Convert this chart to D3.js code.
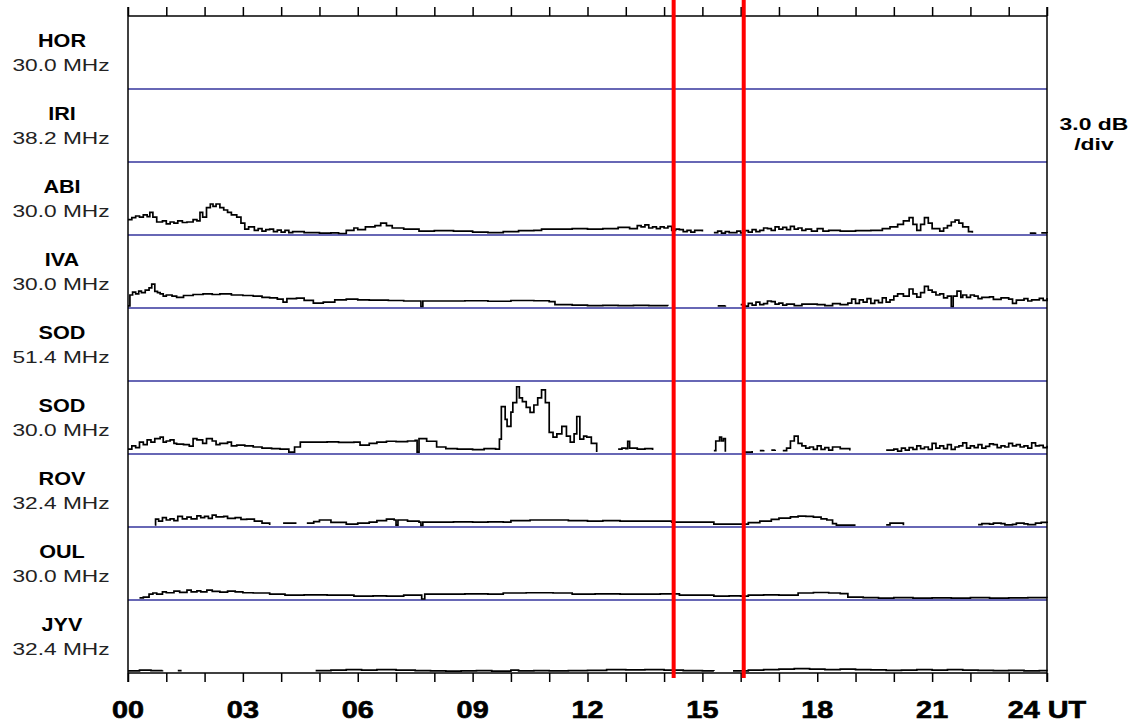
<!DOCTYPE html>
<html><head><meta charset="utf-8">
<script src="https://cdn.jsdelivr.net/npm/d3@7"></script>
<style>html,body{margin:0;padding:0;background:#fff;}svg{display:block;}</style>
</head><body>
<svg id="chart" width="1134" height="723"></svg>
<script>
// ---- data ----
const stations = ["HOR","IRI","ABI","IVA","SOD","SOD","ROV","OUL","JYV"];
const freqs = ["30.0 MHz","38.2 MHz","30.0 MHz","30.0 MHz","51.4 MHz","30.0 MHz","32.4 MHz","30.0 MHz","32.4 MHz"];
const hourLabels = ["00","03","06","09","12","15","18","21","24 UT"];
const labelHours = [0,3,6,9,12,15,18,21,24];
const markerHours = [14.25, 16.08];
const scaleText = ["3.0 dB","/div"];
// values in dB above panel baseline (3 dB per panel), [hour, dB]; null = gap
const HOR = [];
const IRI = [];
const ABI = [[0,0.6],[0.1,0.68],[0.2,0.75],[0.3,0.7],[0.4,0.8],[0.5,0.72],[0.57,0.9],[0.65,0.7],[0.75,0.5],[0.9,0.55],[1.0,0.42],[1.1,0.5],[1.2,0.45],[1.3,0.55],[1.42,0.48],[1.54,0.5],[1.7,0.6],[1.8,0.55],[1.88,0.9],[1.95,0.7],[2.05,1.1],[2.15,1.25],[2.22,1.15],[2.3,1.25],[2.4,1.1],[2.5,1.0],[2.6,0.9],[2.7,0.8],[2.84,0.7],[2.95,0.45],[3.05,0.2],[3.15,0.3],[3.3,0.15],[3.4,0.22],[3.5,0.12],[3.6,0.18],[3.7,0.2],[3.8,0.1],[3.9,0.16],[4.0,0.08],[4.1,0.15],[4.2,0.06],[4.3,0.1],[4.6,0.06],[5.0,0.04],[5.3,0.05],[5.5,0.02],[5.7,0.15],[5.9,0.25],[6.0,0.18],[6.2,0.3],[6.45,0.35],[6.6,0.45],[6.75,0.35],[6.9,0.25],[7.2,0.2],[7.6,0.12],[8.0,0.14],[8.5,0.12],[9.0,0.08],[9.4,0.06],[9.8,0.1],[10.2,0.14],[10.6,0.15],[10.8,0.2],[11.2,0.2],[11.6,0.22],[12.0,0.2],[12.4,0.22],[12.8,0.28],[13.1,0.22],[13.3,0.35],[13.4,0.3],[13.5,0.38],[13.6,0.25],[13.7,0.3],[13.8,0.22],[13.9,0.3],[14.0,0.25],[14.1,0.32],[14.2,0.15],[14.3,0.2],[14.4,0.18],[14.5,0.1],[14.6,0.15],[14.7,0.08],[14.8,0.15],[15.0,0.1],[15.05,null],[15.3,0.06],[15.4,0.12],[15.5,0.04],[15.6,0.1],[15.7,0.06],[15.9,0.12],[16.0,0.05],[16.1,0.14],[16.2,0.08],[16.3,0.18],[16.4,0.1],[16.5,0.15],[16.6,0.25],[16.7,0.22],[16.8,0.15],[16.9,0.3],[17.0,0.2],[17.1,0.28],[17.2,0.18],[17.3,0.32],[17.4,0.2],[17.5,0.25],[17.6,0.15],[17.7,0.2],[17.85,0.12],[18.0,0.22],[18.15,0.12],[18.3,0.15],[18.6,0.12],[19.0,0.14],[19.4,0.15],[19.7,0.22],[19.9,0.3],[20.1,0.4],[20.25,0.55],[20.4,0.68],[20.5,0.4],[20.6,0.15],[20.7,0.4],[20.8,0.68],[20.9,0.45],[21.0,0.22],[21.2,0.12],[21.3,0.25],[21.4,0.35],[21.5,0.5],[21.6,0.58],[21.7,0.45],[21.8,0.3],[21.95,0.1],[22.05,0.05],[22.1,null],[23.55,0.04],[23.7,0.06],[23.75,null],[23.85,0.05],[24,0.04]];
const IVA = [[0,0.05],[0.05,0.5],[0.12,0.62],[0.2,0.55],[0.28,0.66],[0.35,0.6],[0.45,0.7],[0.55,0.8],[0.62,0.95],[0.7,0.65],[0.77,0.6],[0.84,0.55],[0.92,0.45],[1.0,0.5],[1.15,0.45],[1.27,0.4],[1.45,0.48],[1.7,0.52],[1.96,0.55],[2.2,0.52],[2.4,0.55],[2.7,0.5],[3.0,0.48],[3.27,0.45],[3.5,0.4],[3.7,0.38],[3.9,0.33],[4.05,0.2],[4.15,0.35],[4.4,0.37],[4.6,0.28],[4.84,0.16],[5.1,0.2],[5.4,0.3],[5.7,0.33],[6.0,0.3],[6.3,0.29],[6.8,0.27],[7.2,0.25],[7.6,0.25],[7.65,0.02],[7.7,0.25],[8.2,0.25],[8.8,0.26],[9.4,0.24],[10.0,0.27],[10.6,0.26],[11.0,0.22],[11.15,0.1],[11.6,0.08],[12.0,0.06],[12.4,0.07],[12.8,0.06],[13.2,0.07],[13.6,0.06],[14.1,0.05],[14.15,null],[15.4,0.05],[15.6,0.06],[15.65,null],[16.0,0.1],[16.1,0.04],[16.2,0.15],[16.3,0.08],[16.4,0.2],[16.5,0.1],[16.6,0.14],[16.7,0.25],[16.8,0.22],[16.9,0.12],[17.0,0.16],[17.1,0.08],[17.2,0.12],[17.4,0.06],[17.6,0.12],[18.0,0.1],[18.2,0.06],[18.4,0.14],[18.6,0.1],[18.8,0.16],[18.9,0.33],[19.0,0.15],[19.1,0.3],[19.2,0.2],[19.3,0.35],[19.4,0.15],[19.5,0.28],[19.6,0.18],[19.7,0.38],[19.8,0.2],[19.9,0.3],[20.0,0.45],[20.1,0.55],[20.25,0.45],[20.4,0.75],[20.5,0.55],[20.6,0.41],[20.7,0.6],[20.8,0.86],[20.9,0.7],[21.0,0.62],[21.1,0.5],[21.2,0.55],[21.3,0.38],[21.4,0.45],[21.5,0.02],[21.55,0.45],[21.65,0.66],[21.75,0.4],[21.8,0.5],[21.9,0.4],[22.0,0.5],[22.1,0.45],[22.2,0.35],[22.3,0.4],[22.5,0.42],[22.6,0.32],[22.8,0.38],[23.0,0.33],[23.1,0.15],[23.2,0.29],[23.4,0.35],[23.5,0.25],[23.6,0.3],[23.8,0.36],[23.9,0.28],[24,0.37]];
const SOD51 = [];
const SOD30 = [[0,0.16],[0.1,0.3],[0.2,0.22],[0.3,0.45],[0.4,0.35],[0.5,0.55],[0.6,0.45],[0.7,0.6],[0.84,0.66],[0.92,0.45],[1.0,0.5],[1.1,0.55],[1.2,0.4],[1.27,0.37],[1.45,0.35],[1.6,0.29],[1.7,0.6],[1.8,0.55],[1.95,0.4],[2.05,0.6],[2.2,0.5],[2.3,0.35],[2.4,0.4],[2.6,0.45],[2.7,0.3],[2.84,0.33],[3.05,0.3],[3.27,0.25],[3.5,0.2],[3.75,0.18],[3.97,0.16],[4.2,0.04],[4.35,0.25],[4.5,0.45],[4.8,0.45],[5.2,0.46],[5.5,0.44],[5.9,0.45],[6.06,0.33],[6.3,0.4],[6.5,0.45],[6.75,0.49],[7.0,0.47],[7.3,0.5],[7.5,0.53],[7.55,0.04],[7.6,0.6],[7.8,0.49],[8.06,0.25],[8.3,0.18],[8.6,0.16],[9.0,0.14],[9.3,0.18],[9.6,0.16],[9.7,0.58],[9.75,1.93],[9.85,1.4],[9.9,1.11],[10.0,1.7],[10.05,2.1],[10.15,2.76],[10.22,2.3],[10.3,2.14],[10.4,1.9],[10.5,1.69],[10.6,2.0],[10.7,2.3],[10.8,2.63],[10.9,2.1],[11.0,0.86],[11.1,0.66],[11.2,0.8],[11.33,1.11],[11.45,0.7],[11.55,0.45],[11.65,0.8],[11.72,1.52],[11.8,0.58],[11.9,0.7],[11.98,0.66],[12.1,0.4],[12.24,0.04],[12.3,null],[12.8,0.16],[12.9,0.2],[13.0,0.18],[13.05,0.49],[13.1,0.2],[13.3,0.16],[13.5,0.18],[13.7,0.12],[13.75,null],[15.3,0.1],[15.35,0.5],[15.45,0.66],[15.5,0.5],[15.55,0.6],[15.6,0.05],[15.65,null],[16.1,0.04],[16.3,0.08],[16.4,null],[16.5,0.1],[16.6,0.12],[16.7,null],[16.8,0.12],[16.9,0.14],[17.0,null],[17.1,0.1],[17.2,0.2],[17.3,0.5],[17.4,0.7],[17.5,0.4],[17.6,0.3],[17.7,0.2],[17.8,0.25],[17.9,0.15],[18.0,0.3],[18.1,0.15],[18.2,0.22],[18.3,0.12],[18.4,0.25],[18.6,0.18],[18.85,0.1],[18.9,null],[19.8,0.12],[20.0,0.16],[20.1,0.08],[20.2,0.2],[20.3,0.12],[20.4,0.22],[20.5,0.15],[20.6,0.3],[20.7,0.18],[20.8,0.25],[20.9,0.15],[21.0,0.4],[21.1,0.2],[21.2,0.3],[21.3,0.18],[21.4,0.35],[21.5,0.15],[21.6,0.25],[21.7,0.3],[21.8,0.42],[21.9,0.2],[22.0,0.3],[22.1,0.22],[22.2,0.35],[22.3,0.2],[22.4,0.28],[22.5,0.38],[22.6,0.35],[22.7,0.22],[22.8,0.3],[22.9,0.25],[23.0,0.4],[23.1,0.3],[23.2,0.35],[23.3,0.25],[23.4,0.3],[23.5,0.2],[23.6,0.42],[23.7,0.3],[23.8,0.32],[23.9,0.22],[24,0.3]];
const ROV = [[0.7,0.05],[0.72,0.29],[0.8,0.2],[0.9,0.35],[1.0,0.25],[1.1,0.3],[1.2,0.22],[1.3,0.4],[1.42,0.3],[1.54,0.37],[1.65,0.3],[1.8,0.42],[1.9,0.35],[2.0,0.4],[2.1,0.32],[2.2,0.45],[2.3,0.38],[2.5,0.4],[2.6,0.32],[2.8,0.35],[2.95,0.28],[3.1,0.29],[3.3,0.2],[3.5,0.12],[3.7,0.04],[3.75,null],[4.05,0.12],[4.4,0.12],[4.45,null],[4.67,0.12],[4.85,0.18],[5.0,0.25],[5.3,0.15],[5.7,0.08],[6.0,0.12],[6.3,0.16],[6.5,0.22],[6.75,0.29],[6.95,0.25],[7.0,0.04],[7.05,0.25],[7.3,0.2],[7.6,0.16],[7.65,0.03],[7.7,0.16],[8.06,0.16],[8.5,0.17],[9.0,0.16],[9.4,0.17],[9.8,0.16],[10.0,0.22],[10.5,0.25],[11.1,0.25],[11.5,0.22],[12.0,0.2],[12.4,0.22],[12.85,0.2],[13.3,0.2],[13.9,0.2],[14.2,0.16],[14.7,0.16],[15.1,0.16],[15.3,0.08],[15.7,0.08],[16.0,0.08],[16.2,0.14],[16.5,0.2],[16.8,0.28],[17.0,0.33],[17.3,0.38],[17.5,0.41],[17.7,0.4],[17.9,0.37],[18.1,0.3],[18.25,0.25],[18.4,0.1],[18.5,0.04],[19.0,0.04],[19.05,null],[19.8,0.05],[19.9,0.12],[20.2,0.12],[20.25,0.03],[20.3,null],[21.0,0.04],[21.1,null],[21.2,0.04],[21.3,null],[22.2,0.06],[22.3,0.1],[22.5,0.08],[22.6,0.12],[22.8,0.1],[22.9,0.05],[23.1,0.07],[23.2,0.12],[23.4,0.09],[23.5,0.06],[23.7,0.12],[23.85,0.15],[24,0.12]];
const OUL = [[0.3,0.05],[0.4,0.08],[0.55,0.2],[0.65,0.25],[0.75,0.2],[0.9,0.3],[1.0,0.26],[1.2,0.33],[1.35,0.28],[1.54,0.37],[1.65,0.3],[1.8,0.34],[1.9,0.3],[2.06,0.37],[2.2,0.32],[2.4,0.29],[2.6,0.33],[2.8,0.3],[3.0,0.26],[3.27,0.25],[3.7,0.2],[4.1,0.16],[4.6,0.17],[5.2,0.16],[5.8,0.16],[5.9,0.12],[6.4,0.13],[6.75,0.12],[7.2,0.16],[7.6,0.16],[7.67,0.0],[7.75,0.2],[8.2,0.2],[8.8,0.21],[9.4,0.2],[9.8,0.25],[10.4,0.26],[11.1,0.25],[11.6,0.2],[12.2,0.21],[12.85,0.2],[13.4,0.2],[13.9,0.21],[14.4,0.16],[15.0,0.16],[15.3,0.12],[15.7,0.13],[16.0,0.12],[16.2,0.16],[16.6,0.17],[17.0,0.16],[17.5,0.25],[17.9,0.27],[18.3,0.25],[18.6,0.22],[18.8,0.08],[19.2,0.06],[19.6,0.04],[20.0,0.06],[20.5,0.04],[21.0,0.05],[21.5,0.04],[22.0,0.06],[22.5,0.04],[23.0,0.05],[23.5,0.06],[24,0.05]];
const JYV = [[0,0.05],[0.3,0.08],[0.6,0.06],[0.9,0.07],[0.95,null],[1.3,0.06],[1.4,0.06],[1.45,null],[4.7,0.04],[4.75,null],[4.9,0.06],[5.3,0.08],[5.7,0.1],[6.1,0.08],[6.5,0.1],[7.0,0.08],[7.5,0.06],[7.9,0.05],[8.3,0.04],[8.7,0.05],[9.1,0.06],[9.5,0.04],[10.0,0.08],[10.2,0.05],[10.6,0.06],[11.0,0.05],[11.5,0.06],[12.0,0.07],[12.5,0.1],[13.0,0.09],[13.5,0.1],[14.0,0.08],[14.5,0.06],[15.0,0.05],[15.3,0.04],[15.35,null],[15.8,0.05],[16.2,0.08],[16.6,0.1],[17.0,0.12],[17.4,0.14],[17.8,0.12],[18.2,0.1],[18.6,0.12],[19.0,0.1],[19.4,0.09],[19.8,0.07],[20.2,0.08],[20.6,0.1],[21.0,0.08],[21.4,0.1],[21.8,0.08],[22.2,0.07],[22.6,0.06],[23.0,0.07],[23.4,0.05],[23.8,0.06],[24,0.05]];
const series = [HOR, IRI, ABI, IVA, SOD51, SOD30, ROV, OUL, JYV];

// ---- layout ----
const svg = d3.select("#chart");
const L = 128, R = 1047, T = 16, B = 673;
const x = d3.scaleLinear().domain([0, 24]).range([L, R]);
const py = d3.scaleLinear().domain([0, stations.length]).range([T, B]);
const blue = "#34349c";
const font = "Liberation Sans, Arial, sans-serif";

// panel baselines (blue)
svg.append("g").selectAll("line").data(d3.range(1, stations.length)).join("line")
  .attr("x1", L).attr("x2", R).attr("y1", d => py(d)).attr("y2", d => py(d))
  .attr("stroke", blue).attr("stroke-width", 1.6);

// traces
series.forEach((s, i) => {
  const y = d3.scaleLinear().domain([0, 3]).range([py(i + 1) - 1, py(i)]);
  const line = d3.line().defined(d => d[1] !== null).x(d => x(d[0])).y(d => y(d[1])).curve(d3.curveStepAfter);
  svg.append("path").datum(s).attr("d", line).attr("fill", "none")
    .attr("stroke", "#000").attr("stroke-width", 1.7).attr("stroke-linejoin", "miter");
});

// top axis
const topAxis = d3.axisTop(x).tickValues(d3.range(0, 25)).tickSize(9).tickFormat("");
const gt = svg.append("g").attr("transform", `translate(0,${T})`).call(topAxis);
gt.select(".domain").attr("stroke", "#000").attr("stroke-width", 1.5).attr("d", `M${L},0H${R}`);
gt.selectAll(".tick line").attr("stroke", "#000").attr("stroke-width", 1.5);

// bottom axis
const botAxis = d3.axisBottom(x).tickValues(d3.range(0, 25)).tickSize(9).tickFormat("");
const gb = svg.append("g").attr("transform", `translate(0,${B})`).call(botAxis);
gb.select(".domain").attr("stroke", "#000").attr("stroke-width", 1.5).attr("d", `M${L},0H${R}`);
gb.selectAll(".tick line").attr("stroke", "#000").attr("stroke-width", 1.5);

// side frame lines
svg.append("line").attr("x1", L).attr("x2", L).attr("y1", T - 9).attr("y2", B + 9).attr("stroke", "#000").attr("stroke-width", 1.5);
svg.append("line").attr("x1", R).attr("x2", R).attr("y1", T - 9).attr("y2", B + 9).attr("stroke", "#000").attr("stroke-width", 1.5);

// hour labels
svg.append("g").selectAll("g").data(labelHours).join("g")
  .attr("transform", d => `translate(${x(d)},718) scale(1.2,1)`)
  .append("text").attr("text-anchor", "middle")
  .attr("font-family", font).attr("font-weight", "bold").attr("font-size", 24)
  .attr("stroke", "#000").attr("stroke-width", 0.6)
  .text((d, i) => hourLabels[i]);

// station labels
const lab = svg.append("g").selectAll("g").data(stations).join("g");
lab.append("g").attr("transform", (d, i) => `translate(62,${py(i) + 31}) scale(1.2,1)`)
  .append("text").attr("text-anchor", "middle")
  .attr("font-family", font).attr("font-weight", "bold").attr("font-size", 18)
  .text(d => d);
lab.append("g").attr("transform", (d, i) => `translate(61,${py(i) + 55}) scale(1.42,1)`)
  .append("text").attr("text-anchor", "middle")
  .attr("font-family", font).attr("font-size", 16).attr("fill", "#222")
  .text((d, i) => freqs[i]);

// scale label
svg.append("g").selectAll("g").data(scaleText).join("g")
  .attr("transform", (d, i) => `translate(1094,${130 + i * 20}) scale(1.35,1)`)
  .append("text").attr("text-anchor", "middle")
  .attr("font-family", font).attr("font-weight", "bold").attr("font-size", 17)
  .text(d => d);

// red markers
svg.append("g").selectAll("line").data(markerHours).join("line")
  .attr("x1", d => x(d)).attr("x2", d => x(d)).attr("y1", 0).attr("y2", 678)
  .attr("stroke", "#f00").attr("stroke-width", 4);
</script>
</body></html>
